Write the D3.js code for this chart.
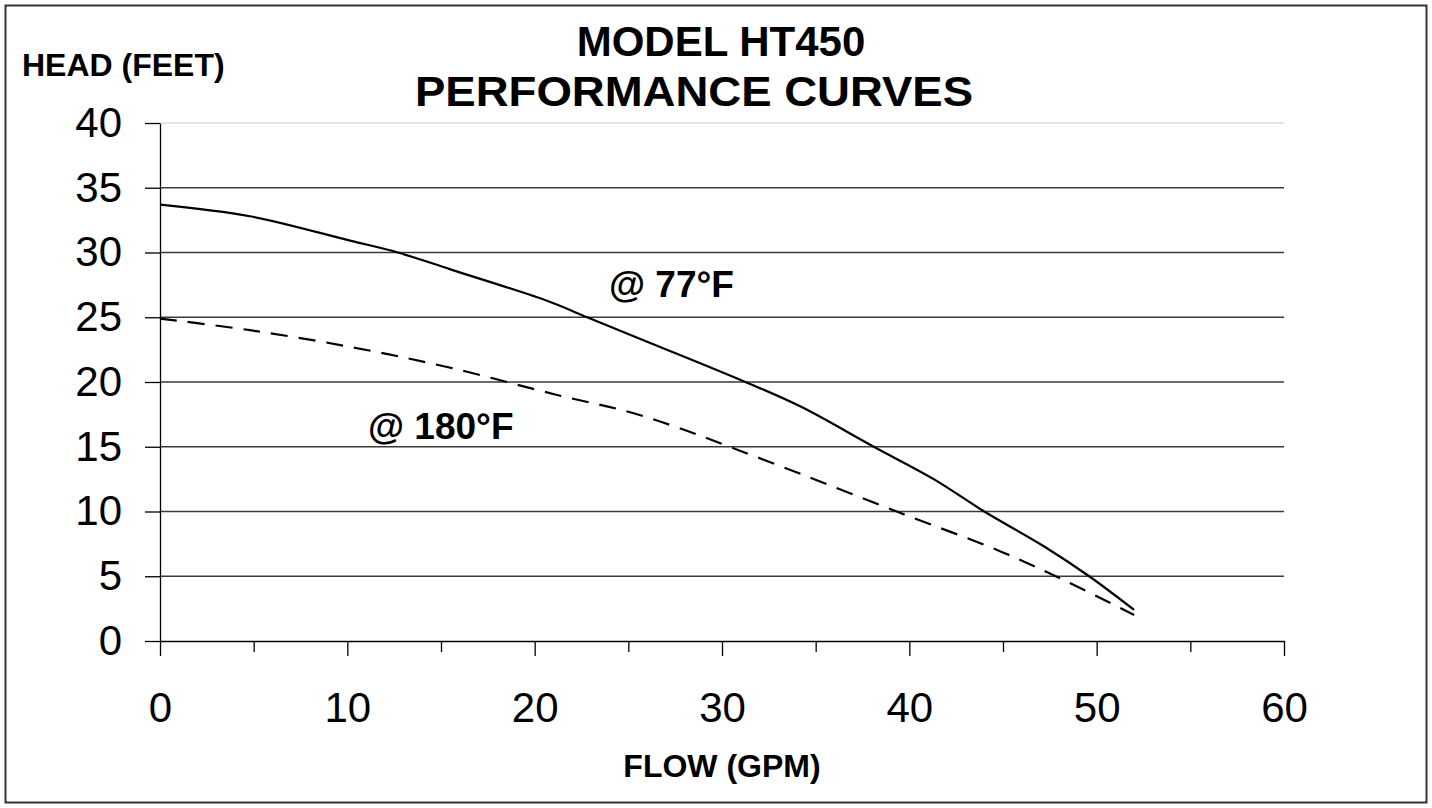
<!DOCTYPE html>
<html>
<head>
<meta charset="utf-8">
<script src="https://cdn.jsdelivr.net/npm/d3@7"></script>
<style>
  body { margin: 0; background: #fff; }
  svg text { font-family: "Liberation Sans", Arial, sans-serif; fill: #000; }
</style>
</head>
<body>
<div id="chart"></div>
<script>
// pump curve readings (flow in GPM, head in feet)
var flow77 = [0, 4.8, 10.2, 12.7, 15.5, 20.8, 22.8, 26.2, 31.25, 34.2, 38.1, 41.3, 44, 47.2, 49.6, 52];
var head77 = [33.7, 32.8, 30.9, 30.0, 28.7, 26.2, 25.0, 23.0, 20.0, 18.1, 15.0, 12.5, 10.0, 7.3, 5.0, 2.4];

var flow180 = [0, 4.8, 10.2, 15.5, 21.2, 25, 27.6, 30.4, 34.2, 39.5, 44.9, 48.4, 52];
var head180 = [24.9, 24.0, 22.7, 21.1, 19.0, 17.7, 16.5, 15.0, 12.9, 9.9, 6.9, 4.6, 2.0];

var xTicks = [0, 10, 20, 30, 40, 50, 60];
var xMinorTicks = [5, 15, 25, 35, 45, 55];
var yTicks = [0, 5, 10, 15, 20, 25, 30, 35, 40];

var width = 1432, height = 808;

var svg = d3.select("#chart")
    .append("svg")
    .attr("width", width)
    .attr("height", height);

// outer frame
svg.append("rect")
    .attr("x", 5.5).attr("y", 5.5)
    .attr("width", 1421).attr("height", 797)
    .attr("fill", "none")
    .attr("stroke", "#333")
    .attr("stroke-width", 2);

var xScale = d3.scaleLinear().domain([0, 60]).range([160, 1284]);
var yScale = d3.scaleLinear().domain([0, 40]).range([641, 123]);

// horizontal gridlines
svg.append("g")
    .selectAll("line")
    .data(yTicks.filter(function(d) { return d > 0; }))
    .enter()
    .append("line")
    .attr("x1", xScale(0))
    .attr("x2", xScale(60))
    .attr("y1", function(d) { return yScale(d); })
    .attr("y2", function(d) { return yScale(d); })
    .attr("stroke", function(d) { return d == 40 ? "#ddd" : "#3a3a3a"; })
    .attr("stroke-width", 1.3);

// minor x ticks (no labels)
svg.append("g")
    .attr("transform", "translate(0," + yScale(0) + ")")
    .call(d3.axisBottom(xScale).tickValues(xMinorTicks).tickSize(11).tickFormat(""))
    .call(function(g) { g.select(".domain").remove(); });

var xAxis = svg.append("g")
    .attr("class", "axis x-axis")
    .attr("transform", "translate(0," + yScale(0) + ")")
    .call(d3.axisBottom(xScale).tickValues(xTicks).tickSize(15).tickSizeOuter(0).tickPadding(36));

var yAxis = svg.append("g")
    .attr("class", "axis y-axis")
    .attr("transform", "translate(" + xScale(0) + ",0)")
    .call(d3.axisLeft(yScale).tickValues(yTicks).tickSize(15).tickSizeOuter(0).tickPadding(23));

svg.selectAll(".axis text")
    .style("font-size", "42px")
    .style("font-family", "'Liberation Sans', Arial, sans-serif");
svg.selectAll(".axis line, .axis path, g line")
    .attr("stroke-width", 1.3);

// curves
var line = d3.line()
    .x(function(d) { return xScale(d[0]); })
    .y(function(d) { return yScale(d[1]); })
    .curve(d3.curveCatmullRom.alpha(0.5));

svg.append("path")
    .datum(flow77.map(function(f, i) { return [f, head77[i]]; }))
    .attr("fill", "none")
    .attr("stroke", "#000")
    .attr("stroke-width", 2.2)
    .attr("d", line);

svg.append("path")
    .datum(flow180.map(function(f, i) { return [f, head180[i]]; }))
    .attr("fill", "none")
    .attr("stroke", "#000")
    .attr("stroke-width", 2.2)
    .attr("stroke-dasharray", "17,11")
    .attr("d", line);

// titles and labels
svg.append("text")
    .attr("x", 721).attr("y", 56)
    .attr("text-anchor", "middle")
    .style("font-size", "42px").style("font-weight", "bold")
    .text("MODEL HT450");

svg.append("text")
    .attr("x", 415).attr("y", 106)
    .attr("textLength", 558)
    .attr("lengthAdjust", "spacingAndGlyphs")
    .style("font-size", "42px").style("font-weight", "bold")
    .text("PERFORMANCE CURVES");

svg.append("text")
    .attr("x", 22).attr("y", 76)
    .style("font-size", "32px").style("font-weight", "bold")
    .text("HEAD (FEET)");

svg.append("text")
    .attr("x", 722).attr("y", 777)
    .attr("text-anchor", "middle")
    .style("font-size", "32px").style("font-weight", "bold")
    .text("FLOW (GPM)");

svg.append("text")
    .attr("x", 609).attr("y", 297)
    .style("font-size", "37px").style("font-weight", "bold")
    .text("@ 77°F");

svg.append("text")
    .attr("x", 368).attr("y", 439)
    .style("font-size", "37px").style("font-weight", "bold")
    .text("@ 180°F");
</script>
</body>
</html>
